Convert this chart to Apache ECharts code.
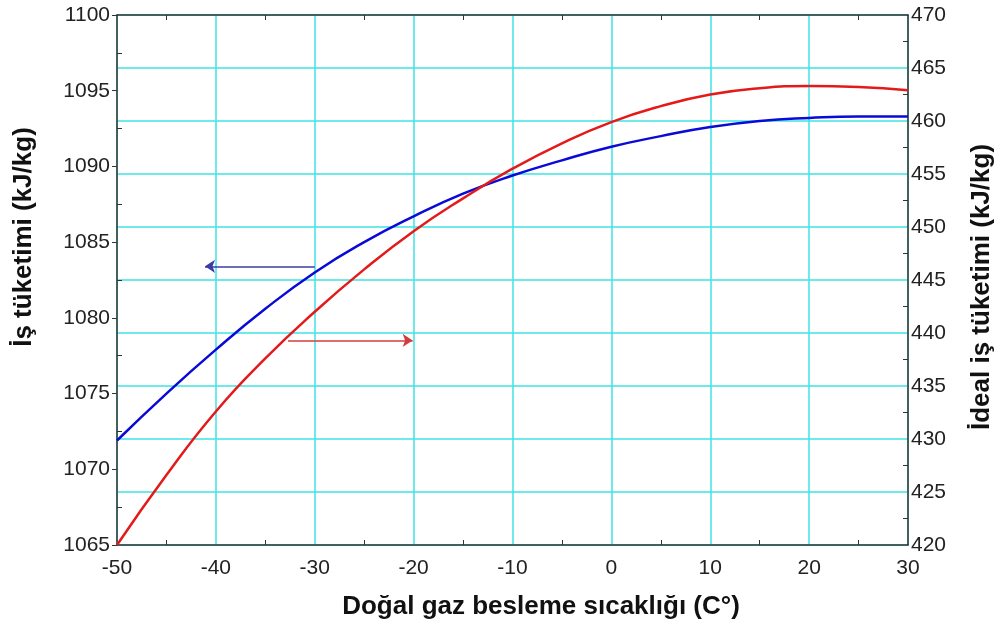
<!DOCTYPE html>
<html>
<head>
<meta charset="utf-8">
<script src="https://cdn.jsdelivr.net/npm/echarts@6/dist/echarts.min.js"></script>
<style>
  html, body { margin: 0; padding: 0; background: #fff; }
  #main { width: 1003px; height: 630px; }
</style>
</head>
<body>
<div id="main"></div>
<script>
// feed temperature (C)
const temps = [-50, -45, -40, -35, -30, -25, -20, -15, -10, -5, 0, 5, 10, 15, 20, 25, 30]
// work consumption, left axis (kJ/kg)
const workUse = [1071.9, 1075.0, 1077.9, 1080.6, 1083.0, 1085.0, 1086.7, 1088.2, 1089.4, 1090.4, 1091.3, 1092.0, 1092.6, 1093.0, 1093.2, 1093.3, 1093.3]
// ideal work consumption, right axis (kJ/kg)
const idealWork = [420.0, 426.6, 432.6, 437.6, 442.0, 446.0, 449.6, 452.7, 455.5, 457.9, 459.9, 461.4, 462.5, 463.1, 463.3, 463.2, 462.9]

// arrows telling which axis each curve uses: [xFrom, xTo, y]
const blueArrow = [-30, -41.1, 1083.4]
const redArrow = [-32.7, -20.1, 439.3]

const gridColor = '#3fe3e3'
const axisColor = '#333'
const labelFont = { color: '#222', fontSize: 21, fontFamily: 'Liberation Sans' }
const titleFont = 'bold 26px "Liberation Sans"'

function pairs(ys) {
    return temps.map((t, i) => [t, ys[i]])
}

var myChart = echarts.init(document.getElementById('main'))

var option = {
    animation: false,
    grid: { left: 117, right: 95, top: 15, bottom: 85 },
    xAxis: [
        {
            type: 'value', min: -50, max: 30, interval: 10,
            axisLine: { onZero: false, lineStyle: { color: axisColor, width: 1.5 } },
            axisTick: { show: false, inside: true },
            minorTick: { show: true, splitNumber: 2, length: 5, lineStyle: { color: axisColor } },
            axisLabel: { ...labelFont, margin: 13 },
            splitLine: { show: true, lineStyle: { color: gridColor, width: 1.5 } }
        },
        {
            type: 'value', min: -50, max: 30, interval: 10, position: 'top',
            axisLine: { onZero: false, lineStyle: { color: axisColor, width: 1.5 } },
            axisTick: { show: false, inside: true },
            minorTick: { show: true, splitNumber: 2, length: 5, lineStyle: { color: axisColor } },
            axisLabel: { show: false },
            splitLine: { show: false }
        }
    ],
    yAxis: [
        {
            type: 'value', min: 1065, max: 1100, interval: 5, position: 'left',
            axisLine: { show: true, onZero: false, lineStyle: { color: axisColor, width: 1.5 } },
            axisTick: { show: true, inside: false, length: 5, lineStyle: { color: axisColor } },
            axisLabel: { ...labelFont, margin: 7, formatter: v => String(v) },
            splitLine: { show: false }
        },
        {
            type: 'value', min: 420, max: 470, interval: 5, position: 'right',
            axisLine: { show: true, onZero: false, lineStyle: { color: axisColor, width: 1.5 } },
            axisTick: { show: false, inside: true },
            minorTick: { show: true, splitNumber: 2, length: 5, lineStyle: { color: axisColor } },
            axisLabel: { ...labelFont, margin: 3 },
            splitLine: { show: true, lineStyle: { color: gridColor, width: 1.5 } }
        },
        {
            // inner minor ticks of the left axis
            type: 'value', min: 1065, max: 1100, interval: 5, position: 'left',
            axisLine: { show: false, onZero: false },
            axisTick: { show: false, inside: true },
            minorTick: { show: true, splitNumber: 2, length: 5, lineStyle: { color: axisColor } },
            axisLabel: { show: false },
            splitLine: { show: false }
        }
    ],
    graphic: [
        {
            type: 'text', rotation: Math.PI / 2,
            x: 24, y: 237,
            style: { text: 'İş tüketimi (kJ/kg)', font: titleFont, fill: '#111', align: 'center', verticalAlign: 'middle' }
        },
        {
            type: 'text', rotation: Math.PI / 2,
            x: 982, y: 287,
            style: { text: 'İdeal iş tüketimi (kJ/kg)', font: titleFont, fill: '#111', align: 'center', verticalAlign: 'middle' }
        },
        {
            type: 'text',
            x: 541, y: 607,
            style: { text: 'Doğal gaz besleme sıcaklığı (C°)', font: titleFont, fill: '#111', align: 'center', verticalAlign: 'middle' }
        }
    ],
    series: [
        {
            type: 'line', xAxisIndex: 0, yAxisIndex: 0,
            data: pairs(workUse), smooth: true, symbol: 'none',
            lineStyle: { color: '#0a0ad8', width: 2.5 },
            markLine: {
                silent: true, symbol: ['none', 'arrow'], symbolSize: 10,
                label: { show: false },
                lineStyle: { color: '#3c3ca6', width: 1.5, type: 'solid' },
                data: [[{ coord: [blueArrow[0], blueArrow[2]] }, { coord: [blueArrow[1], blueArrow[2]] }]]
            }
        },
        {
            type: 'line', xAxisIndex: 0, yAxisIndex: 1,
            data: pairs(idealWork), smooth: true, symbol: 'none',
            lineStyle: { color: '#e41a1a', width: 2.5 },
            markLine: {
                silent: true, symbol: ['none', 'arrow'], symbolSize: 10,
                label: { show: false },
                lineStyle: { color: '#d43c3c', width: 1.5, type: 'solid' },
                data: [[{ coord: [redArrow[0], redArrow[2]] }, { coord: [redArrow[1], redArrow[2]] }]]
            }
        }
    ]
}

myChart.setOption(option)
</script>
</body>
</html>
